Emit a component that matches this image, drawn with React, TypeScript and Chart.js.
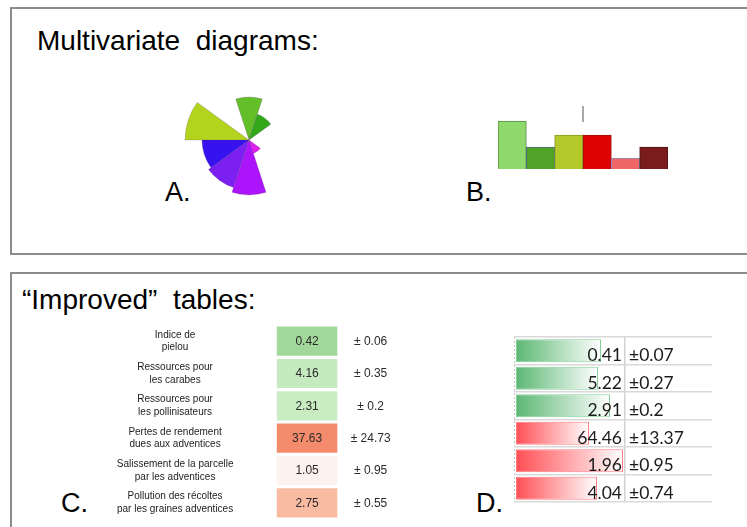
import React, { useEffect, useRef } from "react";
import { Chart, registerables } from "chart.js";

Chart.register(...registerables);

// ---------- A: multivariate polar diagram ----------
const polarCategories = ["v1", "v2", "v3", "v4", "v5", "v6", "v7", "v8", "v9", "v10"];
const polarValues = [43, 27, 0, 0, 14, 55, 50, 47, 64, 0];
const polarColors = [
  "#62bf27", "#33a91a", "#ffffff", "#ffffff", "#e021ec",
  "#ac14fb", "#7b20f0", "#3512ee", "#b3d41c", "#ffffff",
];

// ---------- B: multivariate bar diagram ----------
const barCategories = ["b1", "b2", "b3", "b4", "b5", "b6"];
const barValues = [48, 22, 34, 34, 11, 22];
const barColors = ["#8fd86b", "#4fa326", "#b3c92a", "#de0202", "#f06666", "#7b1c1c"];
const barBorders = ["#5b8c4a", "#4b6a7a", "#8a9a2a", "#a01010", "#8a8ec0", "#4a1010"];
const whiskerRange = [47, 63];

// ---------- C: improved table (coloured cells) ----------
const tableLabels = [
  ["Indice de", "pielou"],
  ["Ressources pour", "les carabes"],
  ["Ressources pour", "les pollinisateurs"],
  ["Pertes de rendement", "dues aux adventices"],
  ["Salissement de la parcelle", "par les adventices"],
  ["Pollution des récoltes", "par les graines adventices"],
];
const tableMeans = [0.42, 4.16, 2.31, 37.63, 1.05, 2.75];
const tableErrors = [0.06, 0.35, 0.2, 24.73, 0.95, 0.55];
const tableColors = ["#a3d89c", "#c6eac0", "#c9ecc3", "#f48b6c", "#fdf2ed", "#f9bca3"];

// ---------- D: improved table (data bars) ----------
const dataBarValues = ["0.41", "5.22", "2.91", "64.46", "1.96", "4.04"];
const dataBarErrors = ["±0.07", "±0.27", "±0.2", "±13.37", "±0.95", "±0.74"];
const dataBarLengths = [0.766, 0.739, 0.847, 0.658, 0.964, 0.73];
const dataBarPositive = [true, true, true, false, false, false];

const BAR_START = 0.018;

function ChartBox(props: { left: number; top: number; width: number; height: number; make: () => any }) {
  const ref = useRef<HTMLCanvasElement>(null);
  useEffect(() => {
    const chart = new Chart(ref.current as HTMLCanvasElement, props.make());
    return () => chart.destroy();
  }, []);
  return (
    <canvas
      ref={ref}
      width={props.width}
      height={props.height}
      style={{ position: "absolute", left: props.left, top: props.top, width: props.width, height: props.height }}
    />
  );
}

const noPlugins = { legend: { display: false }, tooltip: { enabled: false } };

function makePolar() {
  return {
    type: "polarArea",
    data: {
      labels: polarCategories,
      datasets: [
        {
          data: polarValues,
          backgroundColor: polarColors,
          borderColor: "rgba(90,40,120,0.35)",
          borderWidth: 0.6,
        },
      ],
    },
    options: {
      responsive: false,
      animation: false,
      plugins: noPlugins,
      layout: { padding: 0 },
      scales: { r: { display: false, min: 0, max: 65, startAngle: -18 } },
    },
  };
}

function makeBars() {
  return {
    type: "bar",
    data: {
      labels: barCategories,
      datasets: [
        {
          type: "bar",
          data: barValues,
          backgroundColor: barColors,
          borderColor: barBorders,
          borderWidth: 1,
          grouped: false,
          barPercentage: 1,
          categoryPercentage: 1,
        },
        {
          type: "line",
          xAxisID: "x2",
          data: whiskerRange.map((y) => ({ x: 2.5, y })),
          borderColor: "#a9a9a9",
          borderWidth: 2,
          pointRadius: 0,
        },
      ],
    },
    options: {
      responsive: false,
      animation: false,
      plugins: noPlugins,
      layout: { padding: 0 },
      scales: {
        x: { display: false },
        x2: { type: "linear", display: false, min: -0.5, max: 5.5 },
        y: { display: false, min: 0, max: 63 },
      },
    },
  };
}

const tableTextPlugin = {
  id: "tableText",
  afterDatasetsDraw(chart: any) {
    const ctx = chart.ctx;
    const xs = chart.scales.x;
    const ys = chart.scales.y;
    ctx.save();
    ctx.textAlign = "center";
    ctx.textBaseline = "middle";
    tableLabels.forEach((lines, i) => {
      const y = ys.getPixelForValue(i);
      ctx.fillStyle = "#1c1c1c";
      ctx.font = '10px "Liberation Sans", Arial, sans-serif';
      const lh = 12.8;
      lines.forEach((t, k) => {
        ctx.fillText(t, xs.getPixelForValue(-1.68), y + (k - (lines.length - 1) / 2) * lh);
      });
      ctx.font = '12px "Liberation Sans", Arial, sans-serif';
      ctx.fillStyle = "#2a2a2a";
      ctx.fillText(tableMeans[i].toFixed(2), xs.getPixelForValue(0.5), y + 0.5);
      ctx.fillText("± " + String(tableErrors[i]), xs.getPixelForValue(1.55), y + 0.5);
    });
    ctx.restore();
  },
};

function makeTable() {
  return {
    type: "bar",
    data: {
      labels: tableLabels,
      datasets: [
        {
          data: tableLabels.map(() => [0, 1]),
          backgroundColor: tableColors,
          borderWidth: 0,
          barPercentage: 0.9,
          categoryPercentage: 1,
        },
      ],
    },
    options: {
      indexAxis: "y",
      responsive: false,
      animation: false,
      plugins: noPlugins,
      layout: { padding: 0 },
      scales: {
        x: { type: "linear", display: false, min: -2.92, max: 2.2 },
        y: { display: false },
      },
    },
    plugins: [tableTextPlugin],
  };
}

const dataBarTextPlugin = {
  id: "dataBarText",
  afterDatasetsDraw(chart: any) {
    const ctx = chart.ctx;
    const xs = chart.scales.x;
    const ys = chart.scales.y;
    ctx.save();
    ctx.font = '17.5px Lato, "Open Sans", sans-serif';
    ctx.fillStyle = "#1b1b1b";
    ctx.textBaseline = "alphabetic";
    dataBarValues.forEach((v, i) => {
      const y = ys.getPixelForValue(i) + 10.5;
      ctx.textAlign = "right";
      ctx.fillText(v, xs.getPixelForValue(1) - 3, y);
      ctx.textAlign = "left";
      ctx.fillText(dataBarErrors[i], xs.getPixelForValue(1) + 4, y);
    });
    ctx.restore();
  },
};

function makeDataBars() {
  return {
    type: "bar",
    data: {
      labels: dataBarValues,
      datasets: [
        {
          data: dataBarLengths.map((l) => [BAR_START, BAR_START + l]),
          backgroundColor: (c: any) => {
            const chart = c.chart;
            const i = c.dataIndex;
            const base = dataBarPositive[i] ? "#5cb874" : "#ff4f55";
            if (!chart.chartArea || i === undefined) return base;
            const xs = chart.scales.x;
            const x0 = xs.getPixelForValue(BAR_START);
            const x1 = xs.getPixelForValue(BAR_START + dataBarLengths[i]);
            const g = chart.ctx.createLinearGradient(x0, 0, x1, 0);
            g.addColorStop(0, base);
            g.addColorStop(1, "#ffffff");
            return g;
          },
          borderColor: dataBarPositive.map((p) => (p ? "#86cf99" : "#ff7d81")),
          borderWidth: 1,
          borderSkipped: false,
          barPercentage: 0.84,
          categoryPercentage: 1,
        },
      ],
    },
    options: {
      indexAxis: "y",
      responsive: false,
      animation: false,
      plugins: noPlugins,
      layout: { padding: { left: 5, right: 5, top: 10, bottom: 5 } },
      scales: {
        x: {
          type: "linear",
          min: 0,
          max: 1.784,
          display: true,
          ticks: { display: false },
          afterBuildTicks: (s: any) => {
            s.ticks = [{ value: 0 }, { value: 1 }];
          },
          grid: {
            drawTicks: false,
            lineWidth: (c: any) => (c.tick && c.tick.value === 1 ? 1.5 : 1),
            color: (c: any) => (c.tick && c.tick.value === 1 ? "#d2d2d2" : "#c4c4c4"),
          },
          border: {
            display: false,
            dash: (c: any) => (c.tick && c.tick.value === 0 ? [2, 2] : []),
          },
        },
        y: {
          display: true,
          ticks: { display: false },
          grid: { drawTicks: false, color: "#d9d9d9", lineWidth: 1.5, offset: true },
          border: { display: false },
        },
      },
    },
    plugins: [dataBarTextPlugin],
  };
}

const font = '"Liberation Sans", Arial, sans-serif';

function Label(props: { left: number; top: number; size: number; text: string }) {
  return (
    <div
      style={{
        position: "absolute",
        left: props.left,
        top: props.top,
        fontFamily: font,
        fontSize: props.size,
        lineHeight: props.size + "px",
        whiteSpace: "pre",
        color: "#000",
      }}
    >
      {props.text}
    </div>
  );
}

export default function App() {
  return (
    <div
      style={{
        position: "fixed",
        left: 0,
        top: 0,
        width: 747,
        height: 527,
        overflow: "hidden",
        background: "#fff",
      }}
    >
      <div
        style={{
          position: "absolute",
          left: 10,
          top: 7,
          width: 800,
          height: 248,
          border: "2px solid #8c8c8c",
          boxSizing: "border-box",
        }}
      />
      <div
        style={{
          position: "absolute",
          left: 10,
          top: 272,
          width: 800,
          height: 300,
          border: "2px solid #8c8c8c",
          boxSizing: "border-box",
        }}
      />
      <Label left={37} top={27} size={28} text={"Multivariate  diagrams:"} />
      <Label left={22} top={286} size={28} text={"\u201CImproved\u201D  tables:"} />
      <Label left={165} top={179} size={27} text="A." />
      <Label left={466} top={179} size={27} text="B." />
      <Label left={61} top={490} size={27} text="C." />
      <Label left={476} top={490} size={27} text="D." />
      <ChartBox left={184} top={75} width={130} height={130} make={makePolar} />
      <ChartBox left={498} top={106} width={170} height={63} make={makeBars} />
      <ChartBox left={100} top={325} width={310} height={194} make={makeTable} />
      <ChartBox left={509} top={327} width={208} height={180} make={makeDataBars} />
    </div>
  );
}
